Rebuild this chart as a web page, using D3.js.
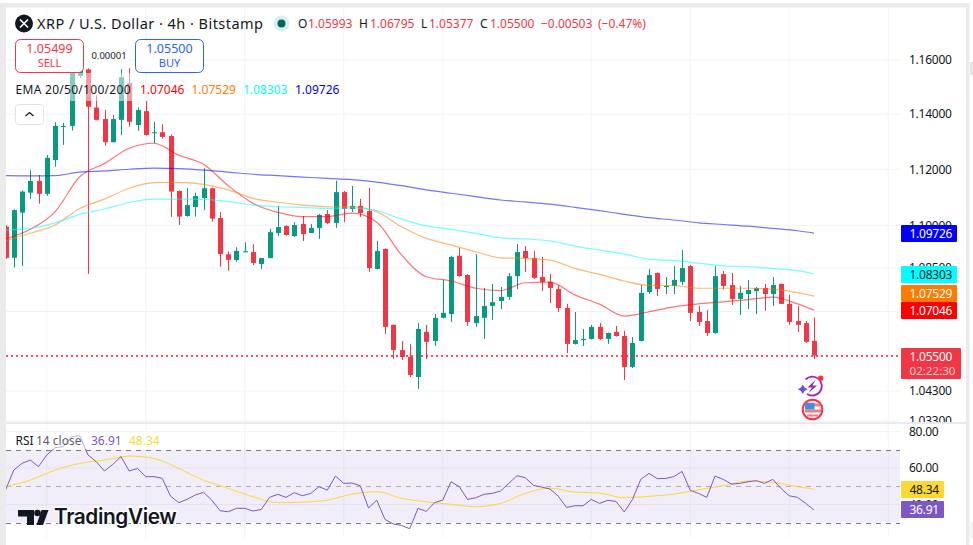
<!DOCTYPE html>
<html>
<head>
<meta charset="utf-8">
<script src="https://cdn.jsdelivr.net/npm/d3@7"></script>
<style>
  html, body { margin: 0; padding: 0; background: #fff; overflow: hidden; }
  text { font-family: "Noto Sans", sans-serif; }
</style>
</head>
<body>
<div id="chart"></div>
<script>
// candles, 4h bars
var opens = [1.0995,1.0886,1.1045,1.1116,1.1158,1.1112,1.1233,1.1355,1.1357,1.1541,1.1565,1.1424,1.1382,1.1298,1.1379,1.1514,1.1360,1.1411,1.1331,1.1334,
  1.1320,1.1122,1.1033,1.1065,1.1097,1.1132,1.1026,1.0898,1.0878,1.0906,1.0906,1.0864,1.0885,1.0973,1.0998,1.0962,1.1005,1.0973,1.0991,1.1040,
  1.1008,1.1118,1.1058,1.1069,1.1051,1.0847,1.0917,1.0654,1.0568,1.0545,1.0477,1.0630,1.0599,1.0678,1.0691,1.0893,1.0826,1.0660,1.0678,1.0719,
  1.0736,1.0750,1.0822,1.0910,1.0885,1.0819,1.0802,1.0777,1.0712,1.0589,1.0602,1.0606,1.0647,1.0606,1.0630,1.0616,1.0511,1.0599,1.0767,1.0833,
  1.0784,1.0788,1.0802,1.0857,1.0698,1.0667,1.0626,1.0829,1.0791,1.0743,1.0760,1.0770,1.0781,1.0760,1.0795,1.0726,1.0667,1.0660,1.05993];
var highs = [1.1000,1.1057,1.1124,1.1197,1.1179,1.1251,1.1370,1.1368,1.1570,1.1590,1.1569,1.1470,1.1415,1.1397,1.1566,1.1569,1.1425,1.1448,1.1372,1.1363,
  1.1326,1.1124,1.1132,1.1116,1.1204,1.1134,1.1047,1.0907,1.0923,1.0940,1.0933,1.0886,1.0988,1.1069,1.1000,1.1011,1.1033,1.1005,1.1040,1.1054,
  1.1159,1.1122,1.1140,1.1094,1.1133,1.0945,1.0919,1.0655,1.0599,1.0589,1.0660,1.0654,1.0691,1.0809,1.0893,1.0920,1.0829,1.0899,1.0781,1.0795,
  1.0784,1.0833,1.0934,1.0927,1.0910,1.0889,1.0829,1.0791,1.0726,1.0698,1.0640,1.0654,1.0660,1.0628,1.0650,1.0633,1.0612,1.0791,1.0847,1.0835,
  1.0819,1.0857,1.0913,1.0861,1.0719,1.0705,1.0857,1.0840,1.0833,1.0788,1.0809,1.0784,1.0795,1.0819,1.0796,1.0757,1.0719,1.0667,1.06795];
var lows = [1.0882,1.0852,1.0858,1.1094,1.1077,1.1105,1.1209,1.1288,1.1340,1.1533,1.0830,1.1377,1.1285,1.1296,1.1324,1.1354,1.1339,1.1322,1.1294,1.1311,
  1.1030,1.1001,1.1031,1.1031,1.1054,1.1013,1.0855,1.0841,1.0872,1.0905,1.0861,1.0847,1.0884,1.0962,1.0964,1.0959,1.0945,1.0972,1.0952,1.1005,
  1.0991,1.1012,1.1047,1.1030,1.0836,1.0845,1.0623,1.0538,1.0534,1.0477,1.0437,1.0538,1.0582,1.0676,1.0664,1.0820,1.0650,1.0647,1.0606,1.0671,
  1.0708,1.0739,1.0777,1.0836,1.0812,1.0770,1.0729,1.0698,1.0558,1.0587,1.0582,1.0604,1.0602,1.0589,1.0614,1.0467,1.0507,1.0597,1.0760,1.0753,
  1.0760,1.0760,1.0791,1.0667,1.0650,1.0616,1.0624,1.0777,1.0722,1.0688,1.0708,1.0691,1.0702,1.0719,1.0725,1.0654,1.0630,1.0592,1.05377];
var closes = [1.0886,1.1054,1.1120,1.1158,1.1112,1.1241,1.1357,1.1357,1.1563,1.1570,1.1427,1.1379,1.1298,1.1382,1.1536,1.1372,1.1415,1.1324,1.1334,1.1317,
  1.1120,1.1031,1.1072,1.1104,1.1132,1.1024,1.0899,1.0879,1.0910,1.0909,1.0868,1.0885,1.0976,1.0994,1.0966,1.1001,1.0969,1.0991,1.1037,1.1008,
  1.1118,1.1058,1.1069,1.1044,1.0850,1.0910,1.0647,1.0568,1.0545,1.0484,1.0640,1.0596,1.0678,1.0695,1.0889,1.0822,1.0664,1.0684,1.0719,1.0732,
  1.0750,1.0822,1.0906,1.0885,1.0816,1.0802,1.0781,1.0712,1.0589,1.0602,1.0606,1.0647,1.0606,1.0626,1.0616,1.0511,1.0592,1.0764,1.0826,1.0777,
  1.0788,1.0809,1.0850,1.0695,1.0664,1.0626,1.0822,1.0788,1.0743,1.0764,1.0774,1.0781,1.0760,1.0791,1.0726,1.0664,1.0654,1.0596,1.05500];

// the EMAs and the RSI average were read at these bars
var sampleBars = [0,3,6,9,12,15,18,21,24,27,30,33,36,39,42,45,48,51,54,57,60,63,66,69,72,75,78,81,84,87,90,93,96,98];
var ema20 = [1.0952,1.0986,1.1048,1.1173,1.1221,1.1276,1.1294,1.1251,1.1218,1.1141,1.1078,1.1046,1.1031,1.1031,1.1043,1.1011,1.0896,1.0820,1.0805,1.0780,1.0772,1.0799,1.0801,1.0757,1.0725,1.0684,1.0699,1.0716,1.0726,1.0733,1.0741,1.0749,1.0726,1.07046];
var ema50 = [1.0946,1.0972,1.1001,1.1060,1.1093,1.1132,1.1152,1.1153,1.1146,1.1126,1.1096,1.1082,1.1072,1.1066,1.1066,1.1048,1.0995,1.0954,1.0931,1.0907,1.0886,1.0884,1.0878,1.0849,1.0828,1.0805,1.0790,1.0789,1.0780,1.0780,1.0780,1.0777,1.0765,1.07529];
var ema100 = [1.0983,1.0989,1.1009,1.1039,1.1058,1.1081,1.1093,1.1093,1.1092,1.1084,1.1072,1.1066,1.1064,1.1060,1.1062,1.1052,1.1022,1.0998,1.0986,1.0972,1.0956,1.0952,1.0945,1.0927,1.0913,1.0899,1.0881,1.0876,1.0867,1.0858,1.0855,1.0849,1.0841,1.08303];
var ema200 = [1.1177,1.1176,1.1177,1.1190,1.1194,1.1200,1.1204,1.1202,1.1197,1.1190,1.1182,1.1177,1.1172,1.1167,1.1163,1.1154,1.1141,1.1126,1.1114,1.1102,1.1090,1.1083,1.1075,1.1064,1.1052,1.1039,1.1027,1.1019,1.1009,1.1003,1.0997,1.0989,1.0981,1.09726];

var rsi = [47.9,58.9,62.6,64.4,60.8,67.2,71.2,71.8,77.2,77.8,67.2,63.5,58.4,62.0,66.3,58.4,59.8,55.3,55.3,54.4,
  44.6,41.0,42.8,45.2,46.7,42.4,36.6,36.0,37.9,37.9,36.4,37.3,43.9,45.6,43.9,46.5,44.8,46.1,49.8,47.9,
  55.6,51.6,51.8,50.3,38.1,42.4,31.8,29.3,28.5,26.7,37.9,36.2,41.0,42.4,52.5,49.8,42.8,43.7,45.6,46.1,
  47.4,51.6,55.8,54.7,50.5,49.6,48.5,44.6,38.4,39.3,39.3,42.8,40.6,42.3,41.7,35.9,42.8,53.8,57.1,54.2,
  54.3,55.3,58.2,47.8,46.1,43.9,55.6,53.8,51.2,51.6,52.5,53.1,51.6,53.8,48.8,44.8,43.9,40.6,36.91];
var rsiMa = [49.8,53.4,58.9,62.6,64.4,66.6,65.3,59.8,53.4,48.9,44.3,41.0,41.3,42.4,45.7,47.0,43.4,41.5,40.1,38.8,40.6,46.1,49.0,46.8,46.3,43.7,44.5,45.7,48.1,50.3,52.9,52.2,49.8,48.34];

// axis ticks and tags
var priceTicks = [1.16,1.14,1.12,1.10,1.085,1.07,1.055,1.043,1.033];
var rsiTicks = [80,60,40];
var rsiBands = [70,50,30];
var gridBars = [5,17,29,41,53,71,83,95,107];
var emaColors = ["#ff0000","#ff7c00","#00ffff","#0000ff"];
var emaNames = ["1.07046","1.07529","1.08303","1.09726"];
var emaSeries = [ema20,ema50,ema100,ema200];
var ohlcLabels = ["O","H","L","C"];
var ohlcValues = ["1.05993","1.06795","1.05377","1.05500"];

var width = 973, height = 545;
var red = "#f23645", green = "#089981", blue = "#2962ff", purple = "#7e57c2", grid = "#f0f3fa";

var svg = d3.select("#chart").append("svg")
  .attr("width", width).attr("height", height)
  .style("display", "block");

// scales
var x = d3.scaleLinear().domain([0, 98]).range([5.5, 814]);
var y = d3.scaleLog().domain([1.033, 1.16]).range([421, 60]);
var yRsi = d3.scaleLinear().domain([30, 80]).range([522.7, 431.7]);

// frame around the panel
svg.append("rect").attr("width", width).attr("height", height).attr("fill", "#fff");
svg.append("rect").attr("x", 0).attr("y", 3).attr("width", 969).attr("height", 4.5).attr("fill", "#ebebeb");
svg.append("rect").attr("x", 0).attr("y", 3).attr("width", 6).attr("height", 542).attr("fill", "#ebebeb");
svg.append("rect").attr("x", 966).attr("y", 3).attr("width", 3.5).attr("height", 542).attr("fill", "#ebebeb");
svg.append("rect").attr("x", 970).attr("y", 62).attr("width", 3).attr("height", 13).attr("fill", "#e4e4e4");
svg.append("rect").attr("x", 969.5).attr("y", 522).attr("width", 4).attr("height", 16).attr("fill", "#f4f4f4");

var defs = svg.append("defs");
defs.append("clipPath").attr("id", "mainClip").append("rect")
  .attr("x", 6).attr("y", 8).attr("width", 894).attr("height", 414);
defs.append("clipPath").attr("id", "rsiClip").append("rect")
  .attr("x", 6).attr("y", 424).attr("width", 894).attr("height", 114);
defs.append("clipPath").attr("id", "axisClip").append("rect")
  .attr("x", 900).attr("y", 8).attr("width", 66).attr("height", 414);

// grid
var gridG = svg.append("g");
gridG.selectAll(".vGrid").data(gridBars).enter().append("line")
  .attr("x1", function(d) { return x(d); }).attr("x2", function(d) { return x(d); })
  .attr("y1", 8).attr("y2", 538).attr("stroke", grid);
gridG.selectAll(".hGrid").data(priceTicks).enter().append("line")
  .attr("x1", 6).attr("x2", 900)
  .attr("y1", function(d) { return y(d); }).attr("y2", function(d) { return y(d); })
  .attr("stroke", grid);
gridG.selectAll(".rGrid").data(rsiTicks).enter().append("line")
  .attr("x1", 6).attr("x2", 900)
  .attr("y1", function(d) { return yRsi(d); }).attr("y2", function(d) { return yRsi(d); })
  .attr("stroke", grid);

// pane divider
svg.append("line").attr("x1", 6).attr("x2", 966).attr("y1", 423).attr("y2", 423)
  .attr("stroke", "#e0e3eb").attr("stroke-width", 1.5);

var main = svg.append("g").attr("clip-path", "url(#mainClip)");

// candles
var candles = main.selectAll(".candle").data(closes).enter().append("g");
candles.append("line")
  .attr("x1", function(d, i) { return Math.round(x(i)) + 0.5; })
  .attr("x2", function(d, i) { return Math.round(x(i)) + 0.5; })
  .attr("y1", function(d, i) { return y(highs[i]); })
  .attr("y2", function(d, i) { return y(lows[i]); })
  .attr("stroke", function(d, i) { return d >= opens[i] ? green : red; });
candles.append("rect")
  .attr("x", function(d, i) { return Math.round(x(i)) - 2; })
  .attr("width", 5)
  .attr("y", function(d, i) { return y(Math.max(d, opens[i])); })
  .attr("height", function(d, i) { return Math.max(1, Math.abs(y(d) - y(opens[i]))); })
  .attr("fill", function(d, i) { return d >= opens[i] ? green : red; });

// moving averages
var emaLine = d3.line()
  .x(function(d, i) { return x(sampleBars[i]); })
  .y(function(d) { return y(d); })
  .curve(d3.curveMonotoneX);
main.selectAll(".ema").data(emaSeries).enter().append("path")
  .attr("d", emaLine)
  .attr("fill", "none")
  .attr("stroke", function(d, i) { return emaColors[i]; })
  .attr("stroke-opacity", 0.55)
  .attr("stroke-width", 1.2);

// last price line
main.append("line").attr("x1", 6).attr("x2", 900)
  .attr("y1", Math.round(y(closes[98])) + 1).attr("y2", Math.round(y(closes[98])) + 1)
  .attr("stroke", "#ff1a2b").attr("stroke-width", 1.6).attr("stroke-dasharray", "2 3");

// fading behind the indicator legend
svg.append("rect").attr("x", 6).attr("y", 73).attr("width", 126).attr("height", 28)
  .attr("fill", "#fff").attr("fill-opacity", 0.5);

// icons under the last bar
var bolt = svg.append("g");
bolt.append("path").attr("d", "M805.5 379.5 A9.5 9.5 0 1 1 807 394")
  .attr("fill", "none").attr("stroke", "#9c27b0").attr("stroke-width", 1.8);
bolt.append("path").attr("d", "M815.5 380 L807.5 387.5 L812 387.5 L808.5 393 L817 385.5 L812.5 385.5 Z").attr("fill", "#9c27b0");
bolt.append("path").attr("d", "M802.7 384.5 L804.5 387.5 L807.7 389.3 L804.5 391 L802.7 394 L801 391 L797.7 389.3 L801 387.5 Z").attr("fill", "#6c4fe0");
bolt.append("circle").attr("cx", 820.7).attr("cy", 378.3).attr("r", 2.7).attr("fill", red);
var flag = svg.append("g");
flag.append("circle").attr("cx", 812.5).attr("cy", 409.5).attr("r", 9.8).attr("fill", "#fff").attr("stroke", red).attr("stroke-width", 2);
flag.append("path").attr("d", "M805 403.5 H820 V406.5 H805 Z M805 409.5 H821 V412.5 H805 Z M807 414.5 H818 V416.5 H807 Z").attr("fill", "#f47c84");
flag.append("rect").attr("x", 805).attr("y", 402.7).attr("width", 9.5).attr("height", 6.8).attr("fill", "#3f8fe0");

// rsi pane
var rsiG = svg.append("g").attr("clip-path", "url(#rsiClip)");
rsiG.append("rect").attr("x", 6).attr("width", 894)
  .attr("y", yRsi(70)).attr("height", yRsi(30) - yRsi(70))
  .attr("fill", purple).attr("fill-opacity", 0.1);
rsiG.selectAll(".band").data(rsiBands).enter().append("line")
  .attr("x1", 6).attr("x2", 900)
  .attr("y1", function(d) { return Math.round(yRsi(d)) + 0.5; }).attr("y2", function(d) { return Math.round(yRsi(d)) + 0.5; })
  .attr("stroke", "#787b86")
  .attr("stroke-opacity", function(d) { return d === 50 ? 0.55 : 1; })
  .attr("stroke-dasharray", "5 5");
rsiG.append("path").datum(rsiMa)
  .attr("d", d3.line().x(function(d, i) { return x(sampleBars[i]); }).y(function(d) { return yRsi(d); }).curve(d3.curveMonotoneX))
  .attr("fill", "none").attr("stroke", "#fdd835").attr("stroke-width", 1);
rsiG.append("path").datum(rsi)
  .attr("d", d3.line().x(function(d, i) { return x(i); }).y(function(d) { return yRsi(d); }))
  .attr("fill", "none").attr("stroke", purple).attr("stroke-width", 1);

// fading behind the rsi legend
svg.append("rect").attr("x", 6).attr("y", 433).attr("width", 158).attr("height", 16)
  .attr("fill", "#fff").attr("fill-opacity", 0.5);

// TradingView mark
var logo = svg.append("g");
logo.append("text").attr("x", 54).attr("y", 524).text("TradingView")
  .attr("font-size", 20.8).attr("font-weight", 600).attr("fill", "#131722")
  .attr("stroke", "#fff").attr("stroke-width", 3).attr("paint-order", "stroke")
  .style("font-family", "Inter, sans-serif").attr("letter-spacing", -0.4);
logo.append("path").attr("d", "M18 510 H34 V525 H27 V516.5 H18 Z M41.5 510 H48.5 L43 525 H36.5 Z").attr("fill", "#131722");
logo.append("circle").attr("cx", 37.5).attr("cy", 513).attr("r", 3.3).attr("fill", "#131722");

// price axis
var yAxis = svg.append("g").attr("clip-path", "url(#axisClip)").append("g")
  .attr("transform", "translate(900,0)")
  .call(d3.axisRight(y).tickValues(priceTicks).tickFormat(d3.format(".5f")).tickSize(0).tickPadding(9));
yAxis.select(".domain").remove();
yAxis.selectAll("text").attr("font-size", 12).attr("letter-spacing", -0.25).attr("fill", "#131722").style("font-family", '"Noto Sans", sans-serif');

var rAxis = svg.append("g")
  .attr("transform", "translate(900,0)")
  .call(d3.axisRight(yRsi).tickValues(rsiTicks).tickFormat(d3.format(".2f")).tickSize(0).tickPadding(9));
rAxis.select(".domain").remove();
rAxis.selectAll("text").attr("font-size", 12).attr("letter-spacing", -0.25).attr("fill", "#131722").style("font-family", '"Noto Sans", sans-serif');

// tags on the price axis, drawn in the order they overlap
function tag(cy, bg, fg, w, label) {
  svg.append("rect").attr("x", 901).attr("y", cy - 8.5).attr("width", w).attr("height", 17).attr("rx", 1).attr("fill", bg);
  svg.append("text").attr("x", 909.5).attr("y", cy + 4.5).attr("font-size", 12).attr("letter-spacing", -0.25).attr("fill", fg).text(label);
}
tag(233.5, "#0000ff", "#fff", 56, "1.09726");
tag(274.5, "#00ffff", "#131722", 56, "1.08303");
tag(293.5, "#ff7c00", "#fff", 56, "1.07529");
tag(310.5, "#ff0000", "#fff", 56, "1.07046");
tag(489.5, "#fdd835", "#131722", 43, "48.34");
tag(509.5, purple, "#fff", 43, "36.91");

svg.append("rect").attr("x", 901).attr("y", 348).attr("width", 60).attr("height", 31).attr("rx", 1).attr("fill", red);
svg.append("text").attr("x", 909.5).attr("y", 361).attr("font-size", 12).attr("letter-spacing", -0.25).attr("fill", "#fff").text("1.05500");
svg.append("text").attr("x", 909.5).attr("y", 375).attr("font-size", 11.6).attr("fill", "#fff").attr("fill-opacity", 0.75).text("02:22:30");

// title row
svg.append("circle").attr("cx", 24).attr("cy", 23.5).attr("r", 9).attr("fill", "#131722");
svg.append("path").attr("d", "M20 19.5 L28 27.5 M28 19.5 L20 27.5").attr("stroke", "#fff").attr("stroke-width", 1.6);
svg.append("text").attr("x", 37).attr("y", 29).attr("font-size", 14.5).attr("fill", "#131722")
  .attr("textLength", 226).text("XRP / U.S. Dollar · 4h · Bitstamp");
svg.append("circle").attr("cx", 281.5).attr("cy", 23.5).attr("r", 8).attr("fill", "#089981").attr("fill-opacity", 0.15);
svg.append("circle").attr("cx", 281.5).attr("cy", 23.5).attr("r", 4).attr("fill", "#00695c");

var ohlcX = [298, 359, 421, 480];
var ohlcValueX = [308, 370, 429, 490];
ohlcLabels.forEach(function(l, i) {
  svg.append("text").attr("x", ohlcX[i]).attr("y", 28).attr("font-size", 12).attr("fill", "#131722").text(l);
  svg.append("text").attr("x", ohlcValueX[i]).attr("y", 28).attr("font-size", 12).attr("fill", red).text(ohlcValues[i]);
});
svg.append("text").attr("x", 541).attr("y", 28).attr("font-size", 12).attr("fill", red).text("−0.00503");
svg.append("text").attr("x", 598).attr("y", 28).attr("font-size", 12).attr("fill", red).text("(−0.47%)");

// sell and buy boxes
function trade(bx, color, price, name) {
  svg.append("rect").attr("x", bx).attr("y", 39.5).attr("width", 68).attr("height", 33).attr("rx", 5)
    .attr("fill", "#fff").attr("stroke", color);
  svg.append("text").attr("x", bx + 34).attr("y", 53).attr("text-anchor", "middle").attr("font-size", 12.5).attr("fill", color).text(price);
  svg.append("text").attr("x", bx + 34).attr("y", 67).attr("text-anchor", "middle").attr("font-size", 11).attr("fill", color).text(name);
}
trade(15.5, red, "1.05499", "SELL");
trade(135.5, blue, "1.05500", "BUY");
svg.append("text").attr("x", 109).attr("y", 59).attr("text-anchor", "middle").attr("font-size", 9.5).attr("fill", "#131722").text("0.00001");

// indicator legend
svg.append("text").attr("x", 15.5).attr("y", 94).attr("font-size", 12).attr("textLength", 115).attr("fill", "#131722").text("EMA 20/50/100/200");
var legendX = [140, 191.5, 243, 295];
emaNames.forEach(function(n, i) {
  svg.append("text").attr("x", legendX[i]).attr("y", 94).attr("font-size", 12).attr("fill", emaColors[i]).text(n);
});
svg.append("rect").attr("x", 15.5).attr("y", 104.5).attr("width", 28).attr("height", 20).attr("rx", 3)
  .attr("fill", "#fff").attr("stroke", "#e0e3eb");
svg.append("path").attr("d", "M25.5 116 L29.5 112.5 L33.5 116").attr("fill", "none").attr("stroke", "#131722").attr("stroke-width", 1.2);

svg.append("text").attr("x", 15.5).attr("y", 445).attr("font-size", 12).attr("fill", "#131722").text("RSI");
svg.append("text").attr("x", 36).attr("y", 445).attr("font-size", 12).attr("fill", "#5d606b").text("14 close");
svg.append("text").attr("x", 91).attr("y", 445).attr("font-size", 12).attr("fill", purple).text("36.91");
svg.append("text").attr("x", 129).attr("y", 445).attr("font-size", 12).attr("fill", "#fdd835").text("48.34");
</script>
</body>
</html>
